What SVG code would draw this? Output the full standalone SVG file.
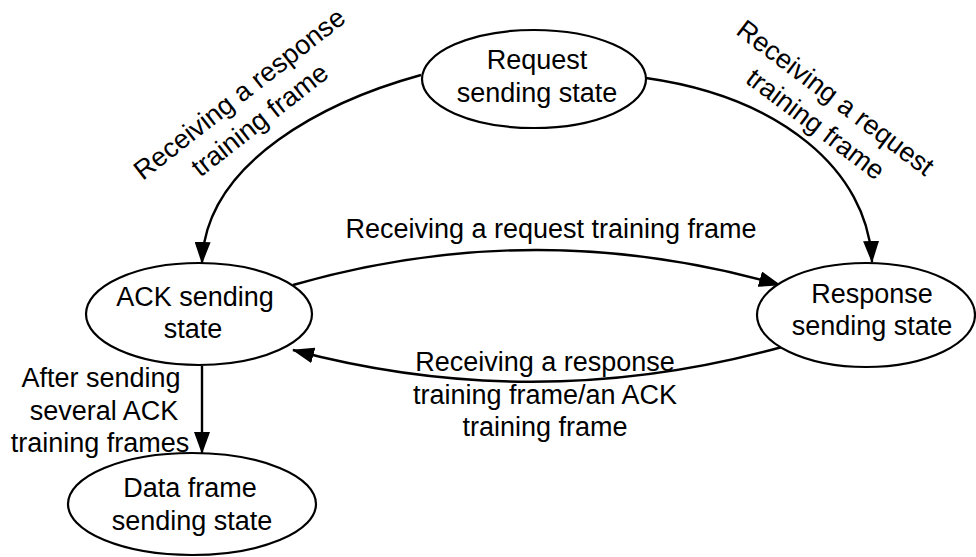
<svg xmlns="http://www.w3.org/2000/svg" width="976" height="557" viewBox="0 0 976 557">
<defs>
<marker id="ah" markerUnits="userSpaceOnUse" markerWidth="22" markerHeight="16" viewBox="0 0 22 16" refX="21" refY="8" orient="auto">
<path d="M0,0 L22,8 L0,16 z" fill="#000"/>
</marker>
<style>
.node{fill:#fff;stroke:#000;stroke-width:2.2}
.edge{fill:none;stroke:#000;stroke-width:2.4;marker-end:url(#ah)}
text{font-family:"Liberation Sans",Arial,sans-serif;font-size:27px;fill:#000;text-anchor:middle}
</style>
</defs>
<rect width="976" height="557" fill="#fff"/>
<g id="edges">
<path class="edge" d="M421,75 C330,100 205,160 202,263"/>
<path class="edge" d="M646,78 C780,97 868,170 872,262"/>
<path class="edge" d="M293,285 Q537,215 780,285"/>
<path class="edge" d="M782,347 Q537,415 293,350"/>
<path class="edge" d="M202,366 L202,453"/>
</g>
<g id="node-request">
<ellipse class="node" cx="534" cy="79" rx="112" ry="49"/>
<text x="537" y="69">Request</text>
<text x="537" y="102">sending state</text>
</g>
<g id="node-ack">
<ellipse class="node" cx="199" cy="314" rx="113" ry="51"/>
<text x="195" y="306">ACK sending</text>
<text x="193" y="338">state</text>
</g>
<g id="node-response">
<ellipse class="node" cx="866" cy="315" rx="109" ry="52"/>
<text x="872" y="303">Response</text>
<text x="872" y="335">sending state</text>
</g>
<g id="node-data">
<ellipse class="node" cx="192" cy="504" rx="124" ry="51"/>
<text x="190" y="497">Data frame</text>
<text x="192" y="530">sending state</text>
</g>
<g id="labels">
<text transform="translate(245,101) rotate(-38)"><tspan x="0" y="0">Receiving a response</tspan><tspan x="0" y="33">training frame</tspan></text>
<text transform="translate(830,105) rotate(37)"><tspan x="0" y="0">Receiving a request</tspan><tspan x="0" y="33">training frame</tspan></text>
<text x="551" y="238">Receiving a request training frame</text>
<text x="545" y="371">Receiving a response</text>
<text x="545" y="404">training frame/an ACK</text>
<text x="545" y="436">training frame</text>
<text x="101" y="387">After sending</text>
<text x="104" y="420">several ACK</text>
<text x="100" y="452">training frames</text>
</g>
</svg>
